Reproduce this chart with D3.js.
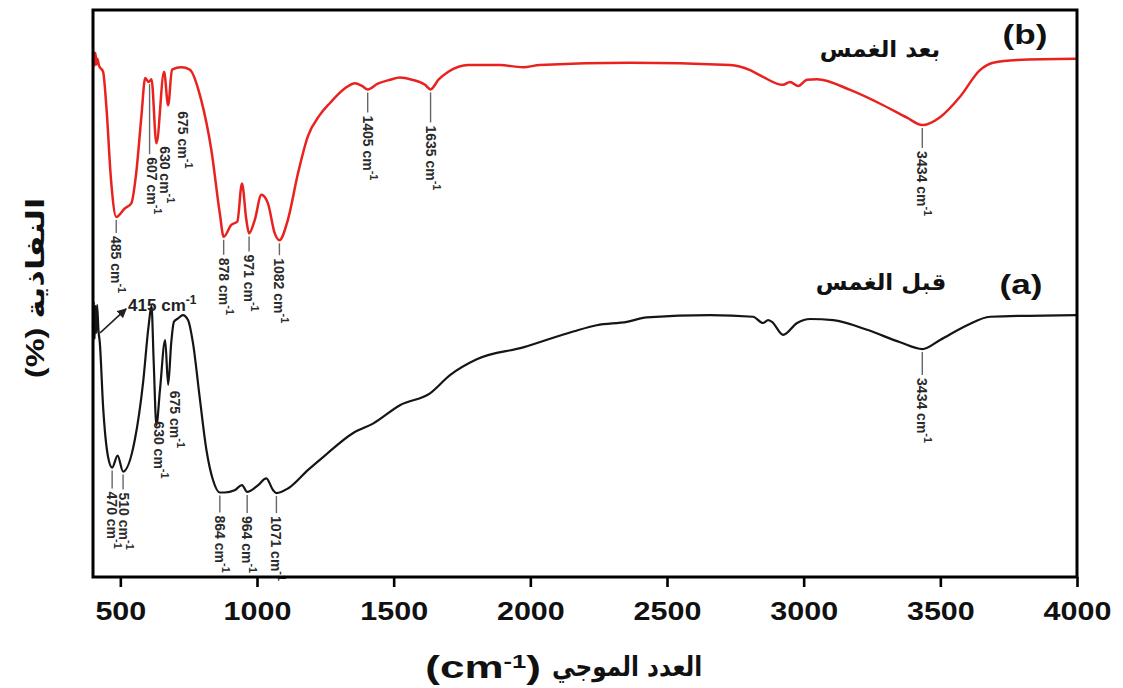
<!DOCTYPE html>
<html>
<head>
<meta charset="utf-8">
<script src="https://cdn.jsdelivr.net/npm/d3@7"></script>
<style>
  html, body { margin: 0; padding: 0; background: #fff; }
  svg { display: block; font-family: "Liberation Sans", Arial, "DejaVu Sans", sans-serif; }
</style>
</head>
<body>
<svg id="chart" width="1123" height="688"></svg>
<script>
// FTIR spectra: wavenumber (cm-1) vs transmittance (%)
const afterWave = [400,403,406,409,412,416,422,437,449,466,485,516,540,558,577,591,604,614,632,660,675,689,723,754,796,833,864,878,906,928,945,961,971,992,1016,1040,1065,1082,1113,1150,1186,1230,1267,1322,1359,1384,1405,1442,1487,1523,1567,1615,1635,1664,1700,1773,1889,1973,2035,2365,2731,2804,2851,2924,2950,2980,3012,3049,3170,3291,3378,3434,3499,3572,3645,3693,3781,4000];
const afterT    = [91.0,92.6,90.2,92.4,90.4,91.4,90.2,89.1,82.9,70.0,63.5,65.0,65.9,71.2,81.2,88.0,87.3,87.8,76.5,89.1,83.2,89.5,89.9,89.5,84.1,75.3,64.1,60.0,62.1,62.7,69.4,63.0,60.6,63.0,67.4,65.9,60.6,59.4,63.0,71.2,77.7,81.5,83.6,86.2,87.1,86.6,86.0,87.0,87.7,88.1,87.7,86.8,86.0,87.7,89.1,90.3,90.3,89.9,90.3,90.7,90.3,89.4,88.2,86.8,87.3,86.6,87.7,87.8,85.9,83.2,81.0,79.7,81.1,84.7,89.4,90.7,91.2,91.4];

const beforeWave = [400,403,406,409,412,415,420,425,437,455,470,490,510,553,583,603,614,622,632,645,664,675,686,696,711,729,748,766,790,815,839,864,882,918,945,964,1004,1034,1059,1071,1113,1187,1243,1352,1426,1523,1633,1706,1804,1974,2157,2243,2353,2426,2658,2815,2851,2870,2884,2925,2976,3024,3108,3232,3353,3434,3499,3598,3682,4000];
const beforeT    = [44.0,48.5,42.0,47.8,43.0,48.0,43.5,41.3,30.0,21.2,19.3,21.4,18.6,24.2,34.2,44.1,47.8,38.0,26.8,33.0,41.8,33.9,41.2,45.0,45.6,46.2,45.3,41.2,31.8,22.4,17.1,14.9,14.9,15.3,16.2,15.0,16.2,17.4,15.3,14.8,15.6,18.9,21.2,25.4,27.1,30.3,32.4,35.6,38.4,40.5,43.3,44.4,45.0,45.8,46.2,45.9,44.8,45.3,45.0,42.7,44.8,45.5,45.3,43.6,41.4,40.2,41.8,44.4,45.9,46.2];

// Marked band positions (cm-1)
const afterPeaks  = [485, 607, 630, 675, 878, 971, 1082, 1405, 1635, 3434];
const beforePeaks = [470, 510, 630, 675, 864, 964, 1071, 3434];
const arrowPeak   = 415;

const xTicks = [500, 1000, 1500, 2000, 2500, 3000, 3500, 4000];

const svg = d3.select("#chart");
const plotLeft = 93, plotRight = 1077, plotTop = 10, plotBottom = 577;

const x = d3.scaleLinear().domain([400, 4000]).range([plotLeft, plotRight]);
const y = d3.scaleLinear().domain([0, 100]).range([plotBottom, plotTop]);

const line = d3.line().x(d => x(d[0])).y(d => y(d[1])).curve(d3.curveMonotoneX);
const zip = (a, b) => a.map((w, i) => [w, b[i]]);
const afterData = zip(afterWave, afterT);
const beforeData = zip(beforeWave, beforeT);
const interp = (data, w) => {
  for (let i = 1; i < data.length; i++) {
    if (w <= data[i][0]) {
      const [w0, t0] = data[i - 1], [w1, t1] = data[i];
      return t0 + (t1 - t0) * (w - w0) / (w1 - w0);
    }
  }
  return data[data.length - 1][1];
};

// spectra
svg.append("path").datum(beforeData)
  .attr("d", line).attr("fill", "none")
  .attr("stroke", "#151515").attr("stroke-width", 2.2).attr("stroke-linejoin", "round");
svg.append("path").datum(afterData)
  .attr("d", line).attr("fill", "none")
  .attr("stroke", "#e8231f").attr("stroke-width", 2.5).attr("stroke-linejoin", "round");

// band labels: leader length, horizontal text offset, extra gap
const afterLayout = {485:[13,0,0], 607:[70,2,0], 630:[0,9,4], 675:[0,15,0], 878:[15,0,0], 971:[15,0,0], 1082:[12,0,0], 1405:[20,0,0], 1635:[30,0,0], 3434:[20,0,0]};
const beforeLayout = {470:[18,0,0], 510:[15,1,0], 630:[0,3,3], 675:[0,7,0], 864:[17,0,0], 964:[18,0,0], 1071:[17,0,0], 3434:[23,0,0]};

function bandLabels(peaks, data, layout) {
  const g = svg.append("g");
  peaks.forEach(w => {
    const [len, dx, gap] = layout[w];
    const px = x(w), py = y(interp(data, w)) + 3;
    if (len > 0) {
      g.append("line").attr("x1", px).attr("x2", px).attr("y1", py).attr("y2", py + len)
        .attr("stroke", "#666").attr("stroke-width", 1.4);
    }
    const t = g.append("text")
      .attr("transform", `translate(${px + dx},${py + len + 3 + gap}) rotate(90)`)
      .attr("dominant-baseline", "central")
      .attr("font-size", 14).attr("font-weight", "bold").attr("fill", "#2a2a2a");
    t.append("tspan").text(`${w} cm`);
    t.append("tspan").attr("baseline-shift", "super").attr("font-size", 11).text("-1");
  });
}
bandLabels(afterPeaks, afterData, afterLayout);
bandLabels(beforePeaks, beforeData, beforeLayout);

// arrow pointing at the 415 cm-1 band
const apx = x(arrowPeak), apy = y(interp(beforeData, arrowPeak));
svg.append("defs").append("marker")
  .attr("id", "head").attr("viewBox", "0 0 10 10").attr("refX", 9).attr("refY", 5)
  .attr("markerWidth", 6).attr("markerHeight", 6).attr("orient", "auto")
  .append("path").attr("d", "M0,0L10,5L0,10Z").attr("fill", "#222");
svg.append("line").attr("x1", apx + 3).attr("y1", apy + 28).attr("x2", apx + 29).attr("y2", apy + 4)
  .attr("stroke", "#222").attr("stroke-width", 1.6).attr("marker-end", "url(#head)");
const at = svg.append("text").attr("x", apx + 31).attr("y", apy + 6)
  .attr("font-size", 17).attr("font-weight", "bold").attr("fill", "#222");
at.append("tspan").text(`${arrowPeak} cm`);
at.append("tspan").attr("baseline-shift", "super").attr("font-size", 12).text("-1");

// frame
svg.append("rect").attr("x", plotLeft).attr("y", plotTop)
  .attr("width", plotRight - plotLeft).attr("height", plotBottom - plotTop)
  .attr("fill", "none").attr("stroke", "#000").attr("stroke-width", 3);

// bottom axis
const axis = d3.axisBottom(x).tickValues(xTicks).tickSize(10).tickFormat(d3.format("d"));
const gx = svg.append("g").attr("transform", `translate(0,${plotBottom})`).call(axis);
gx.select(".domain").remove();
gx.selectAll(".tick line").attr("stroke", "#000").attr("stroke-width", 2.6);
gx.selectAll(".tick text")
  .attr("y", 25).attr("dy", "0.71em")
  .attr("transform", "scale(1.22,1)")
  .attr("font-size", 25).attr("font-weight", "bold").attr("fill", "#111")
  .attr("font-family", "'Liberation Sans', Arial, sans-serif");

// panel tags and sample names
const tag = (txt, cx, cy) => svg.append("text").attr("transform", `translate(${cx},${cy}) scale(1.3,1)`)
  .attr("text-anchor", "middle").attr("font-size", 27).attr("font-weight", "bold").attr("fill", "#111").text(txt);
tag("(b)", 1025, 44);
tag("(a)", 1021, 294);

const name = (txt, cx, cy) => svg.append("text").attr("x", cx).attr("y", cy)
  .attr("text-anchor", "middle").attr("font-size", 23).attr("font-weight", "bold").attr("fill", "#111")
  .attr("font-family", "'DejaVu Sans', sans-serif").text(txt);
name("بعد الغمس", 880, 57);
name("قبل الغمس", 881, 290);

// x-axis title: unit on the left, Arabic words on the right
const xu = svg.append("text").attr("transform", "translate(541,678) scale(1.42,1)")
  .attr("text-anchor", "end").attr("font-size", 31).attr("font-weight", "bold").attr("fill", "#111")
  .style("direction", "ltr").style("unicode-bidi", "bidi-override");
xu.append("tspan").text("(cm");
xu.append("tspan").attr("baseline-shift", "super").attr("font-size", 18).text("-1");
xu.append("tspan").attr("baseline-shift", "0").text(")");
svg.append("text").attr("transform", "translate(552,676) scale(0.86,1)")
  .attr("text-anchor", "start").attr("font-size", 27).attr("font-weight", "bold").attr("fill", "#111")
  .attr("font-family", "'DejaVu Sans', sans-serif")
  .text("العدد الموجي");

// y-axis title
svg.append("text").attr("transform", "translate(44,288) rotate(-90) scale(1.3,1)")
  .attr("text-anchor", "middle").attr("font-size", 25).attr("font-weight", "bold").attr("fill", "#111")
  .text("(%) النفاذية");
</script>
</body>
</html>
